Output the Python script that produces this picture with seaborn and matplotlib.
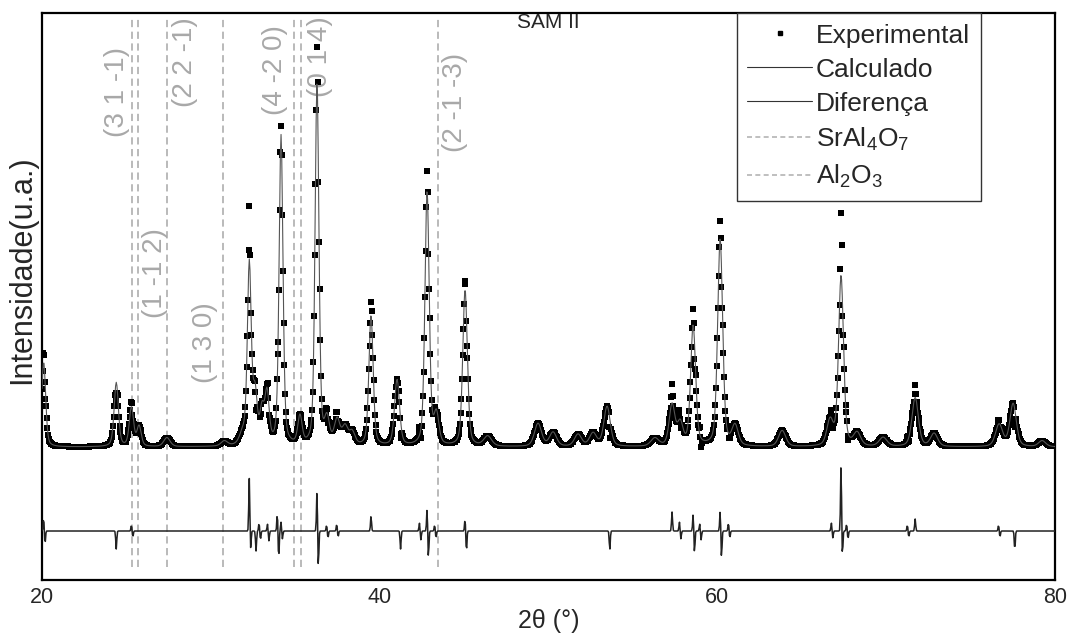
import numpy as np
import pandas as pd
import matplotlib
matplotlib.use('Agg')
import matplotlib.pyplot as plt
from matplotlib.lines import Line2D
import seaborn as sns

# peaks: 2theta, calculated height above background (a.u.), fwhm (deg)
peak_pos = [20.10, 24.40, 25.30, 25.75, 27.40, 30.80, 31.90, 32.28, 32.62, 33.03,
            33.33, 34.16, 35.28, 36.29, 36.88, 37.48, 37.95, 38.37, 39.49, 41.03,
            42.81, 43.36, 45.06, 46.40, 49.38, 50.27, 51.75, 52.64, 53.47, 56.30,
            57.32, 57.80, 58.57, 60.17, 61.05, 63.84, 66.68, 67.33, 68.28, 69.82,
            71.72, 72.84, 76.69, 77.52, 79.24]
peak_height = [850, 640, 390, 200, 90, 50, 110, 1800, 500, 330,
               500, 3100, 280, 3620, 250, 250, 180, 130, 1300, 660,
               2540, 300, 1570, 100, 230, 140, 120, 130, 400, 80,
               410, 220, 1200, 2070, 200, 160, 250, 1700, 130, 90,
               490, 130, 220, 430, 60]
peak_fwhm = [0.28, 0.30, 0.30, 0.30, 0.45, 0.45, 0.45, 0.27, 0.30, 0.30,
             0.30, 0.27, 0.30, 0.27, 0.35, 0.40, 0.40, 0.40, 0.30, 0.35,
             0.30, 0.35, 0.32, 0.55, 0.50, 0.50, 0.50, 0.50, 0.45, 0.55,
             0.40, 0.40, 0.35, 0.35, 0.45, 0.50, 0.45, 0.35, 0.50, 0.55,
             0.45, 0.50, 0.50, 0.45, 0.50]
background = 1330

# residual spikes: position, up, down (a.u.)
diff_pos = [20.14, 24.36, 25.34, 32.32, 32.64, 33.98, 36.33, 39.53, 41.20, 42.85,
            45.10, 53.59, 57.36, 58.61, 60.21, 67.37, 71.76, 77.58,
            32.90, 33.40, 34.20, 36.90, 37.50, 42.40, 43.30, 57.80, 59.00, 60.70,
            66.80, 67.70, 71.30, 76.70]
diff_up = [130, 0, 60, 530, 0, 180, 400, 150, 0, 220,
           120, 0, 190, 170, 200, 670, 120, 0,
           80, 70, 90, 60, 70, 80, 60, 90, 70, 80,
           80, 70, 60, 60]
diff_down = [130, 180, 60, 180, 200, 280, 370, 0, 180, 270,
             210, 190, 0, 220, 270, 260, 0, 190,
             90, 100, 80, 70, 60, 90, 70, 80, 90, 70,
             70, 80, 60, 60]
diff_offset = 490

# reflection markers
srAl4O7_pos = [25.33, 27.41, 30.72, 34.93]
srAl4O7_hkl = ['(3 1 -1)', '(2 2 -1)', '(1 3 0)', '(4 -2 0)']
al2O3_pos = [25.69, 35.34, 43.46]
al2O3_hkl = ['(1 -1 2)', '(0 1 4)', '(2 -1 -3)']

step = 0.04
two_theta = np.arange(20, 80 + step / 2, step)


def profile(x, pos, h, w):
    # pseudo-Voigt
    g = np.exp(-4 * np.log(2) * (x - pos) ** 2 / w ** 2)
    l = 1 / (1 + 4 * (x - pos) ** 2 / w ** 2)
    return h * (0.6 * g + 0.4 * l)


calc = np.full_like(two_theta, background, dtype=float)
for p, h, w in zip(peak_pos, peak_height, peak_fwhm):
    calc += profile(two_theta, p, h, w)

diff = np.zeros_like(two_theta)
for p, u, d in zip(diff_pos, diff_up, diff_down):
    diff += u * np.exp(-(two_theta - (p - 0.04)) ** 2 / (2 * 0.03 ** 2))
    diff -= d * np.exp(-(two_theta - (p + 0.04)) ** 2 / (2 * 0.03 ** 2))

df = pd.DataFrame({'two_theta': two_theta, 'calc': calc,
                   'obs': calc + diff, 'diff': diff + diff_offset})

sns.set_style('white')
plt.rcParams['font.family'] = ['Liberation Sans', 'DejaVu Sans']
plt.rcParams['mathtext.fontset'] = 'custom'
plt.rcParams['mathtext.rm'] = 'Liberation Sans'
plt.rcParams['mathtext.it'] = 'Liberation Sans:italic'

fig = plt.figure(figsize=(10.68, 6.35), dpi=100)
ax = fig.add_axes([0.0393, 0.0866, 0.9485, 0.893])

grey = '#b4b4b4'
for p in srAl4O7_pos + al2O3_pos:
    ax.axvline(p, ymin=0.023, ymax=0.991, color=grey, ls=(0, (4, 2.5)), lw=1.3, zorder=1)

sns.scatterplot(data=df, x='two_theta', y='obs', marker='s', s=15, color='black',
                linewidth=0, ax=ax, zorder=3)
sns.lineplot(data=df, x='two_theta', y='calc', color='#555555', lw=0.8,
             estimator=None, sort=False, ax=ax, zorder=4)
sns.lineplot(data=df, x='two_theta', y='diff', color='#222222', lw=1.1,
             estimator=None, sort=False, ax=ax, zorder=4)

# hkl labels
label_xy = {'(3 1 -1)': (24.45, 4880), '(1 -1 2)': (26.7, 3070),
            '(2 2 -1)': (28.45, 5180), '(1 3 0)': (29.65, 2370),
            '(4 -2 0)': (33.8, 5100), '(0 1 4)': (36.45, 5230),
            '(2 -1 -3)': (44.45, 4780)}
for txt, (x, y) in label_xy.items():
    ax.text(x, y, txt, rotation=90, ha='center', va='center', fontsize=20,
            color='#a8a8a8', zorder=2)

ax.text(50.0, 5570, 'SAM II', ha='center', va='center', fontsize=15)

ax.set_xlim(20, 80)
ax.set_ylim(0, 5670)
ax.set_xticks([20, 40, 60, 80])
ax.set_yticks([])
ax.tick_params(axis='x', length=0, pad=5, labelsize=15.5)
ax.set_xlabel('2θ (°)', fontsize=18, labelpad=1)
ax.set_ylabel('')
for s in ax.spines.values():
    s.set_color('black')
    s.set_linewidth(1.6)
fig.text(0.021, 0.576, 'Intensidade(u.a.)', rotation=90, ha='center', va='center',
         fontsize=22)

handles = [Line2D([], [], marker='s', ls='none', color='black', ms=3.5),
           Line2D([], [], color='#333333', lw=0.8),
           Line2D([], [], color='#333333', lw=0.8),
           Line2D([], [], color=grey, lw=1.2, ls=(0, (3, 2))),
           Line2D([], [], color=grey, lw=1.2, ls=(0, (3, 2)))]
labels = ['Experimental', 'Calculado', 'Diferença', r'SrAl$_4$O$_7$', r'Al$_2$O$_3$']
leg = ax.legend(handles, labels, loc='upper left', bbox_to_anchor=(0.686, 1.0),
                borderaxespad=0, fontsize=19, handlelength=2.45, handletextpad=0.15,
                labelspacing=0.38, borderpad=0.4, fancybox=False, framealpha=1,
                edgecolor='#333333')
leg.get_frame().set_linewidth(1.0)

fig.savefig('out.png', dpi=100)
